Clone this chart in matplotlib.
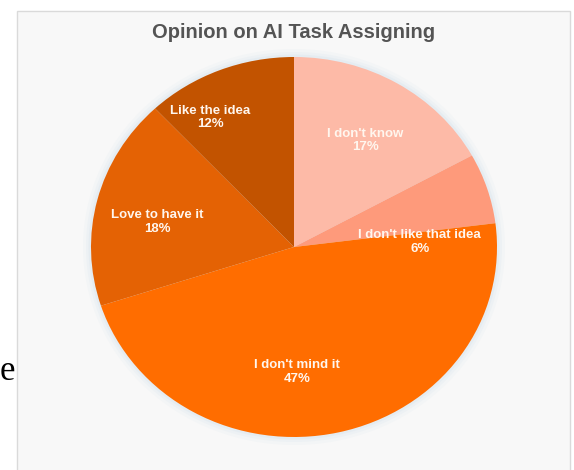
import matplotlib.pyplot as plt
from matplotlib.patches import Rectangle, Ellipse

plt.rcParams['font.family'] = ['Liberation Sans', 'DejaVu Sans']

# data, clockwise from 12 o'clock
answers = ["I don't know", "I don't like that idea", "I don't mind it",
           "Love to have it", "Like the idea"]
shares = [17, 6, 47, 18, 12]
colors = ["#FDBAA7", "#FE9A7B", "#FF6D00", "#E46204", "#C25300"]

# where the labels sit inside the pie (axes fractions of the pie box)
label_pos = [(0.675, 0.78), (0.81, 0.513), (0.507, 0.171), (0.163, 0.566), (0.293, 0.84)]

W, H = 574, 470
fig = plt.figure(figsize=(W / 100, H / 100), dpi=100)
fig.patch.set_facecolor("white")

# chart card background
bg = fig.add_axes([0, 0, 1, 1])
bg.set_xlim(0, W)
bg.set_ylim(H, 0)
bg.axis("off")
bg.add_patch(Rectangle((17, 11), 553, 470, facecolor="#F8F8F8",
                       edgecolor="#DADADA", linewidth=1))
bg.text(294, 32, "Opinion on AI Task Assigning", ha="center", va="center",
        fontsize=14.5, fontweight="bold", color="#545454")
# stray letter from the surrounding document
bg.text(0, 372, "e", ha="left", va="center", fontsize=25,
        family="Liberation Serif", color="black")

# soft glow round the pie
for grow, alpha in [(16, 0.10), (10, 0.14), (5, 0.2)]:
    bg.add_patch(Ellipse((294, 247), 406 + grow, 380 + grow,
                         facecolor="#C9DCE8", edgecolor="none", alpha=alpha))

# pie box: x 91..497, y 57..437 px
ax = fig.add_axes([91 / W, 1 - 437 / H, 406 / W, 380 / H])
wedges, _ = ax.pie(shares, colors=colors, startangle=90, counterclock=False,
                   radius=1, wedgeprops=dict(linewidth=0))
ax.set_aspect("auto")
ax.set_xlim(-1, 1)
ax.set_ylim(-1, 1)
ax.axis("off")

for name, val, (lx, ly) in zip(answers, shares, label_pos):
    ax.text(lx, ly, f"{name}\n{val}%", transform=ax.transAxes, ha="center",
            va="center", fontsize=9.5, fontweight="bold", color="#FFF6EE",
            linespacing=1.15)

plt.savefig("out.png", dpi=100)
